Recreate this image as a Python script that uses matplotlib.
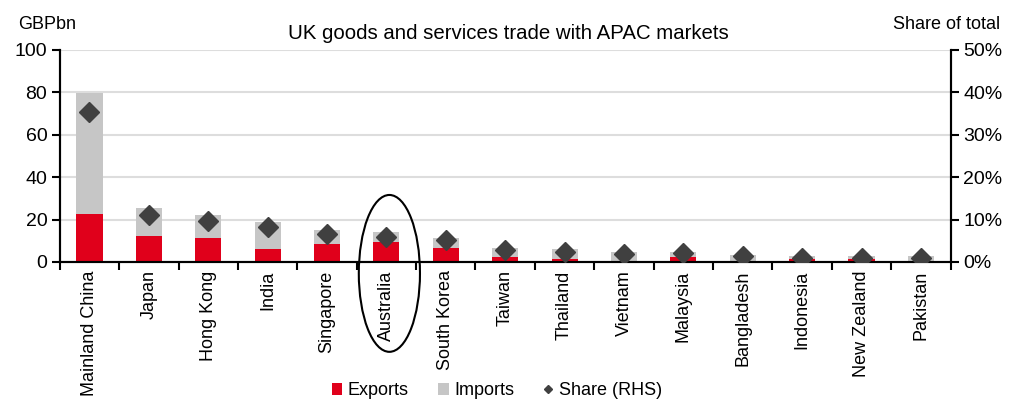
import matplotlib.pyplot as plt
from matplotlib.patches import Ellipse
from matplotlib.ticker import FuncFormatter, FixedLocator
import numpy as np

plt.rcParams['font.family'] = ['Liberation Sans', 'DejaVu Sans']

# 数据：英国与亚太市场的货物和服务贸易 (GBPbn)
markets = ['Mainland China', 'Japan', 'Hong Kong', 'India', 'Singapore', 'Australia',
           'South Korea', 'Taiwan', 'Thailand', 'Vietnam', 'Malaysia', 'Bangladesh',
           'Indonesia', 'New Zealand', 'Pakistan']
exports = [22.5, 12.3, 11.3, 6.0, 8.6, 9.6, 6.8, 2.4, 1.5, 0.6, 2.2, 0.4, 1.3, 1.3, 0.3]
totals = [79.5, 25.3, 22.2, 18.7, 15.1, 14.0, 11.1, 6.7, 5.9, 4.8, 4.8, 3.1, 2.9, 2.9, 3.0]
imports = [t - e for t, e in zip(totals, exports)]
share = [35.4, 11.1, 9.7, 8.3, 6.5, 6.0, 5.2, 2.8, 2.4, 1.8, 2.0, 1.5, 1.0, 1.0, 1.0]

fig = plt.figure(figsize=(10.31, 4.03), dpi=100)
ax = fig.add_axes([0.058, 0.35, 0.864, 0.526])
ax2 = ax.twinx()

x = np.arange(len(markets))
w = 0.44
b1 = ax.bar(x, exports, w, color='#E0001B', label='Exports', zorder=2)
b2 = ax.bar(x, imports, w, bottom=exports, color='#C6C6C6', label='Imports', zorder=2)
ln, = ax2.plot(x, share, linestyle='none', marker='D', markersize=10,
               color='#404040', label='Share (RHS)', zorder=3)

ax.set_xlim(-0.5, len(markets) - 0.5)
ax.set_ylim(0, 100)
ax2.set_ylim(0, 50)
ax.set_yticks(range(0, 101, 20))
ax2.set_yticks(range(0, 51, 10))
ax2.yaxis.set_major_formatter(FuncFormatter(lambda v, p: f'{v:.0f}%'))

ax.grid(axis='y', color='#DDDDDD', linewidth=1.5, zorder=0)
ax.set_axisbelow(True)

# x轴刻度在类别之间，标签在中间
ax.set_xticks(x)
ax.set_xticklabels(markets, rotation=90, fontsize=13)
ax.xaxis.set_minor_locator(FixedLocator(np.arange(-0.5, len(markets), 1)))
ax.tick_params(axis='x', which='major', length=0, pad=6)
ax.tick_params(axis='x', which='minor', length=6, width=1.5, direction='out')
ax.tick_params(axis='y', length=6, width=1.5, direction='out', labelsize=14, pad=3)
ax2.tick_params(axis='y', length=6, width=1.5, direction='out', labelsize=14, pad=3)

for a in (ax, ax2):
    a.spines['top'].set_visible(False)
    for s in ('left', 'right', 'bottom'):
        a.spines[s].set_linewidth(1.5)

fig.text(0.018, 0.94, 'GBPbn', fontsize=13, ha='left', va='center')
fig.text(0.97, 0.94, 'Share of total', fontsize=13, ha='right', va='center')
fig.text(0.493, 0.918, 'UK goods and services trade with APAC markets', fontsize=14.7,
         ha='center', va='center')

# 圈出 Australia
ell = Ellipse((5.05, -5.4), 1.03, 74, fill=False, edgecolor='black', linewidth=1.5,
              clip_on=False, zorder=5)
ax.add_patch(ell)

fig.legend(handles=[b1, b2, ln], loc='center', bbox_to_anchor=(0.482, 0.03), ncol=3,
           frameon=False, fontsize=13, handlelength=0.6, handletextpad=0.3,
           columnspacing=1.6, markerscale=0.4)

plt.savefig('out.png', dpi=100)
